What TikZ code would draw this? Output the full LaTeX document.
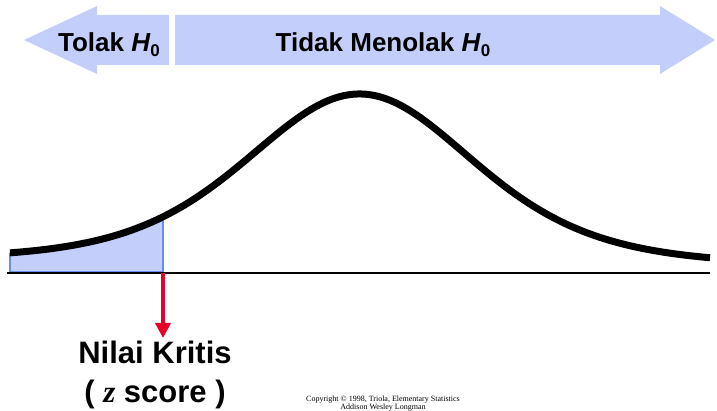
\documentclass[tikz,border=0pt]{standalone}
\usepackage{fontspec}
\setmainfont{Liberation Sans}
\newfontfamily\serifl{Liberation Serif}
\usetikzlibrary{arrows.meta}
\definecolor{arrowblue}{RGB}{195,206,250}
\definecolor{fillblue}{RGB}{195,206,250}
\definecolor{edgeblue}{RGB}{105,140,240}
\definecolor{critred}{RGB}{232,0,42}
\newcommand\hnull{\textit{H}\raisebox{-0.17em}{\fontsize{17}{17}\selectfont 0}}
\tikzset{
  bigarrow/.style={fill=arrowblue, draw=none},
  toplabel/.style={anchor=base, font=\fontsize{26}{30}\selectfont\bfseries, inner sep=0pt},
  critlabel/.style={anchor=base, font=\fontsize{31}{36}\selectfont\bfseries, inner sep=0pt},
  copytext/.style={anchor=base, font=\serifl\fontsize{8}{9}\selectfont, inner sep=0pt},
  curveline/.style={line width=7pt, black, line join=round},
  redarrow/.style={critred, line width=4.3pt, -{Triangle[width=15pt,length=15pt]}},
  declare function={bell(\t)=262-168*exp(-3.75*ln(1+((\t-360)/300)^2))+0.007*(\t-360);}
}
\begin{document}
\begin{tikzpicture}[x=1pt, y=-1pt]
\useasboundingbox (0,0) rectangle (717,411);
% top arrows
\fill[bigarrow] (24,40) -- (97,6) -- (97,15) -- (169,15) -- (169,65) -- (97,65) -- (97,74) -- cycle;
\fill[bigarrow] (175,15) -- (660,15) -- (660,6) -- (715,40) -- (660,74) -- (660,65) -- (175,65) -- cycle;
\node[toplabel] (tolak) at (109,52) {Tolak \hnull};
\node[toplabel] (tidak) at (383,52) {Tidak Menolak \hnull};
% shaded tail
\fill[fillblue] (10,272) -- plot[domain=10:163, samples=60] (\x,{bell(\x)}) -- (163,272) -- cycle;
\draw[edgeblue, line width=1.2pt] (10,{bell(10)}) -- (10,272) -- (163,272) -- (163,{bell(163)-3});
% baseline
\coordinate (axL) at (7,273);
\coordinate (axR) at (710,273);
\draw[line width=1.3pt] (axL) -- (axR);
% curve
\draw[curveline] plot[domain=10:710, samples=240] (\x,{bell(\x)});
% critical arrow
\coordinate (crit) at (163,273);
\coordinate (tip) at (163,338);
\draw[redarrow] (crit) -- (tip);
\node[critlabel] (nilai) at (155,363) {Nilai Kritis};
\node[critlabel] (zscore) at (155,402) {( {\serifl\itshape z} score )};
\node[copytext] (copy1) at (383,401.5) {Copyright © 1998, Triola, Elementary Statistics};
\node[copytext] (copy2) at (383,409.5) {Addison Wesley Longman};
\end{tikzpicture}
\end{document}
